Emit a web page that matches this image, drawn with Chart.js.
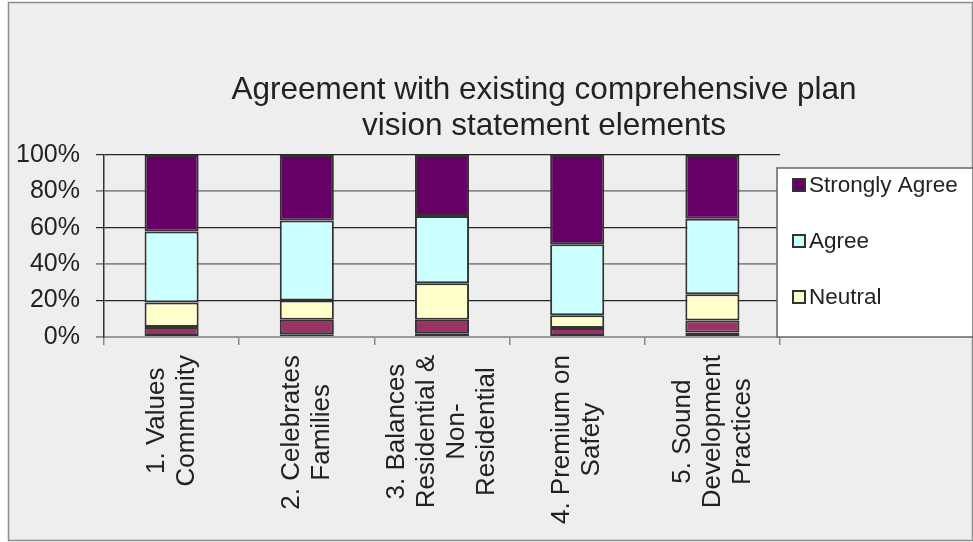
<!DOCTYPE html>
<html>
<head>
<meta charset="utf-8">
<script src="https://cdn.jsdelivr.net/npm/chart.js@4.4.0/dist/chart.umd.min.js"></script>
<style>
    html, body { margin: 0; padding: 0; background: #fff; }
    #wrap { width: 973px; height: 542px; }
</style>
</head>
<body>
<div id="wrap"><canvas id="grafico" width="973" height="542"></canvas></div>
<script>
const categories = [
    ['1. Values', 'Community'],
    ['2. Celebrates', 'Families'],
    ['3. Balances', 'Residential &', 'Non-', 'Residential'],
    ['4. Premium on', 'Safety'],
    ['5. Sound', 'Development', 'Practices']
];

// percent of responses, bottom of the stack first
const stronglyDisagree = [0.5, 1.5, 2, 0.5, 2.5];
const disagree = [5, 8, 7.5, 4.5, 6.5];
const neutral = [13.5, 10.5, 20, 7, 14.5];
const agree = [39, 44, 37, 39, 41.5];
const stronglyAgree = [42, 36, 33.5, 49, 35];

const yTicks = [0, 20, 40, 60, 80, 100];
const titleLines = ['Agreement with existing comprehensive plan', 'vision statement elements'];

const FONT = '"Liberation Sans", Arial, sans-serif';

const series = [
    { label: 'Strongly Disagree', data: stronglyDisagree, color: '#9999FF' },
    { label: 'Disagree', data: disagree, color: '#993366' },
    { label: 'Neutral', data: neutral, color: '#FFFFCC' },
    { label: 'Agree', data: agree, color: '#CCFFFF' },
    { label: 'Strongly Agree', data: stronglyAgree, color: '#660066' }
];

// frame, title, category labels and the (clipped) legend box
const decorations = {
    id: 'decorations',
    beforeDraw(chart) {
        const c = chart.ctx;
        c.save();
        c.fillStyle = '#fff';
        c.fillRect(0, 0, chart.width, chart.height);
        c.fillStyle = '#EEEEEE';
        c.fillRect(8.5, 2.5, 964, 538);
        c.strokeStyle = '#8c8c8c';
        c.lineWidth = 1.5;
        c.strokeRect(8.5, 2.5, 964, 538);

        c.fillStyle = '#222';
        c.font = '31.5px ' + FONT;
        c.textAlign = 'center';
        c.textBaseline = 'alphabetic';
        titleLines.forEach((line, i) => {
            c.fillText(line, 544, 99 + i * 36);
        });
        c.restore();
    },
    afterDraw(chart) {
        const c = chart.ctx;
        const xs = chart.scales.x;
        const area = chart.chartArea;
        c.save();

        // rotated multi-line category labels
        c.font = '26px ' + FONT;
        c.fillStyle = '#222';
        c.textAlign = 'center';
        c.textBaseline = 'middle';
        categories.forEach((lines, i) => {
            const x = xs.getPixelForValue(i);
            const maxW = Math.max(...lines.map(l => c.measureText(l).width));
            const cy = area.bottom + 18 + maxW / 2;
            c.save();
            c.translate(x, cy);
            c.rotate(-Math.PI / 2);
            lines.forEach((l, k) => {
                c.fillText(l, 0, (k - (lines.length - 1) / 2) * 30);
            });
            c.restore();
        });

        // legend box, only three entries fit like in the original
        const lx = 777, ly = 168, lw = 196, lh = 169;
        c.fillStyle = '#fff';
        c.fillRect(lx, ly, lw, lh);
        c.strokeStyle = '#666';
        c.lineWidth = 1.5;
        c.strokeRect(lx, ly, lw, lh);

        c.font = '22.5px ' + FONT;
        c.textAlign = 'left';
        c.textBaseline = 'middle';
        const shown = chart.data.datasets.slice().reverse().slice(0, 3);
        shown.forEach((ds, i) => {
            const yy = ly + 17 + i * 56;
            c.fillStyle = ds.backgroundColor;
            c.fillRect(793, yy - 6, 12, 12);
            c.strokeStyle = '#333';
            c.lineWidth = 2;
            c.strokeRect(793, yy - 6, 12, 12);
            c.fillStyle = '#222';
            c.fillText(ds.label, 809, yy + 1);
        });
        c.restore();
    }
};

const ctx = document.getElementById('grafico').getContext('2d');
const grafico = new Chart(ctx, {
    type: 'bar',
    data: {
        labels: categories.map(l => l.join(' ')),
        datasets: series.map(s => ({
            label: s.label,
            data: s.data,
            backgroundColor: s.color,
            borderColor: '#333',
            borderWidth: 2,
            borderSkipped: false,
            barPercentage: 0.4,
            categoryPercentage: 1
        }))
    },
    options: {
        responsive: false,
        animation: false,
        layout: {
            padding: { top: 155, right: 193, bottom: 0, left: 0 }
        },
        plugins: {
            legend: { display: false },
            title: { display: false },
            tooltip: { enabled: false }
        },
        scales: {
            x: {
                stacked: true,
                afterFit: (scale) => { scale.height = 205; },
                grid: {
                    display: true,
                    drawOnChartArea: false,
                    offset: true,
                    tickLength: 8,
                    color: '#8a8a8a',
                    lineWidth: 1.5
                },
                border: { display: true, color: '#9a9a9a', width: 2 },
                ticks: { display: false }
            },
            y: {
                stacked: true,
                min: 0,
                max: 100,
                afterFit: (scale) => { scale.width = 104; },
                afterBuildTicks: (scale) => {
                    scale.ticks = yTicks.map(v => ({ value: v }));
                },
                grid: {
                    tickLength: 8,
                    color: (c) => (c.index % 2 ? '#262626' : '#8a8a8a'),
                    lineWidth: (c) => (c.index % 2 ? 1.2 : 1.8)
                },
                border: { display: true, color: '#333', width: 1.5 },
                ticks: {
                    padding: 16,
                    color: '#222',
                    font: { size: 25, family: FONT },
                    callback: (v) => v + '%'
                }
            }
        }
    },
    plugins: [decorations]
});
</script>
</body>
</html>
